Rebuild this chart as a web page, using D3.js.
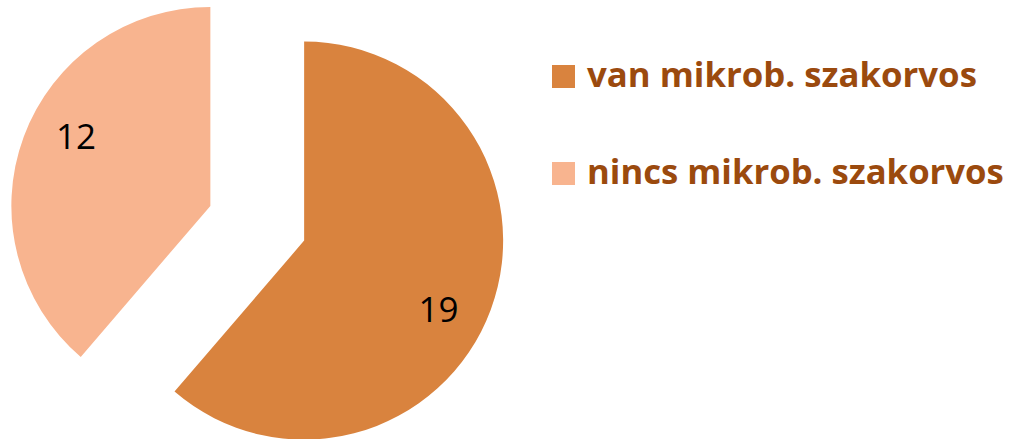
<!DOCTYPE html>
<html><head><meta charset="utf-8">
<script src="https://cdn.jsdelivr.net/npm/d3@7"></script>
<style>html,body{margin:0;padding:0;background:#fff;}svg{display:block;}</style>
</head><body>
<svg id="chart" width="1011" height="439"></svg>
<script>
const categories = ["van mikrob. szakorvos", "nincs mikrob. szakorvos"];
const values = [19, 12];
const colors = ["#D9833E", "#F8B48F"];

const svg = d3.select("#chart");
const W = 1011, H = 439;
const cx = 257.25, cy = 223.25, R = 199, explode = 50;

const pie = d3.pie().sort(null).value(d => d.v);
const arcs = pie(categories.map((c, i) => ({c, v: values[i], color: colors[i]})));
const arc = d3.arc().innerRadius(0).outerRadius(R);

const g = svg.append("g").attr("transform", `translate(${cx},${cy})`);
const slices = g.selectAll("g.slice").data(arcs).join("g")
  .attr("class", "slice")
  .attr("transform", d => {
    const a = (d.startAngle + d.endAngle) / 2;
    return `translate(${explode * Math.sin(a)},${-explode * Math.cos(a)})`;
  });
slices.append("path").attr("d", arc).attr("fill", d => d.data.color);
slices.append("text")
  .attr("x", d => { const a = (d.startAngle + d.endAngle) / 2 + 0.12; return 151 * Math.sin(a); })
  .attr("y", d => { const a = (d.startAngle + d.endAngle) / 2 + 0.12; return -151 * Math.cos(a); })
  .attr("text-anchor", "middle")
  .attr("dy", "0.36em")
  .attr("font-family", "'Open Sans', sans-serif")
  .attr("font-size", 35)
  .attr("fill", "#000")
  .text(d => d.data.v);

// legend
const legend = svg.append("g");
const ly = [65, 162];
const targetW = [390, 417];
categories.forEach((c, i) => {
  legend.append("rect").attr("x", 552).attr("y", ly[i]).attr("width", 23).attr("height", 23)
    .attr("fill", colors[i]);
  const t = legend.append("text").attr("x", 587).attr("y", ly[i] + 22)
    .attr("font-family", "'Open Sans', sans-serif").attr("font-weight", "bold")
    .attr("font-size", 32).attr("fill", "#9B4A0E").text(c);
  const w = t.node().getComputedTextLength();
  t.attr("font-size", 32 * targetW[i] / w);
});
</script>
</body></html>
